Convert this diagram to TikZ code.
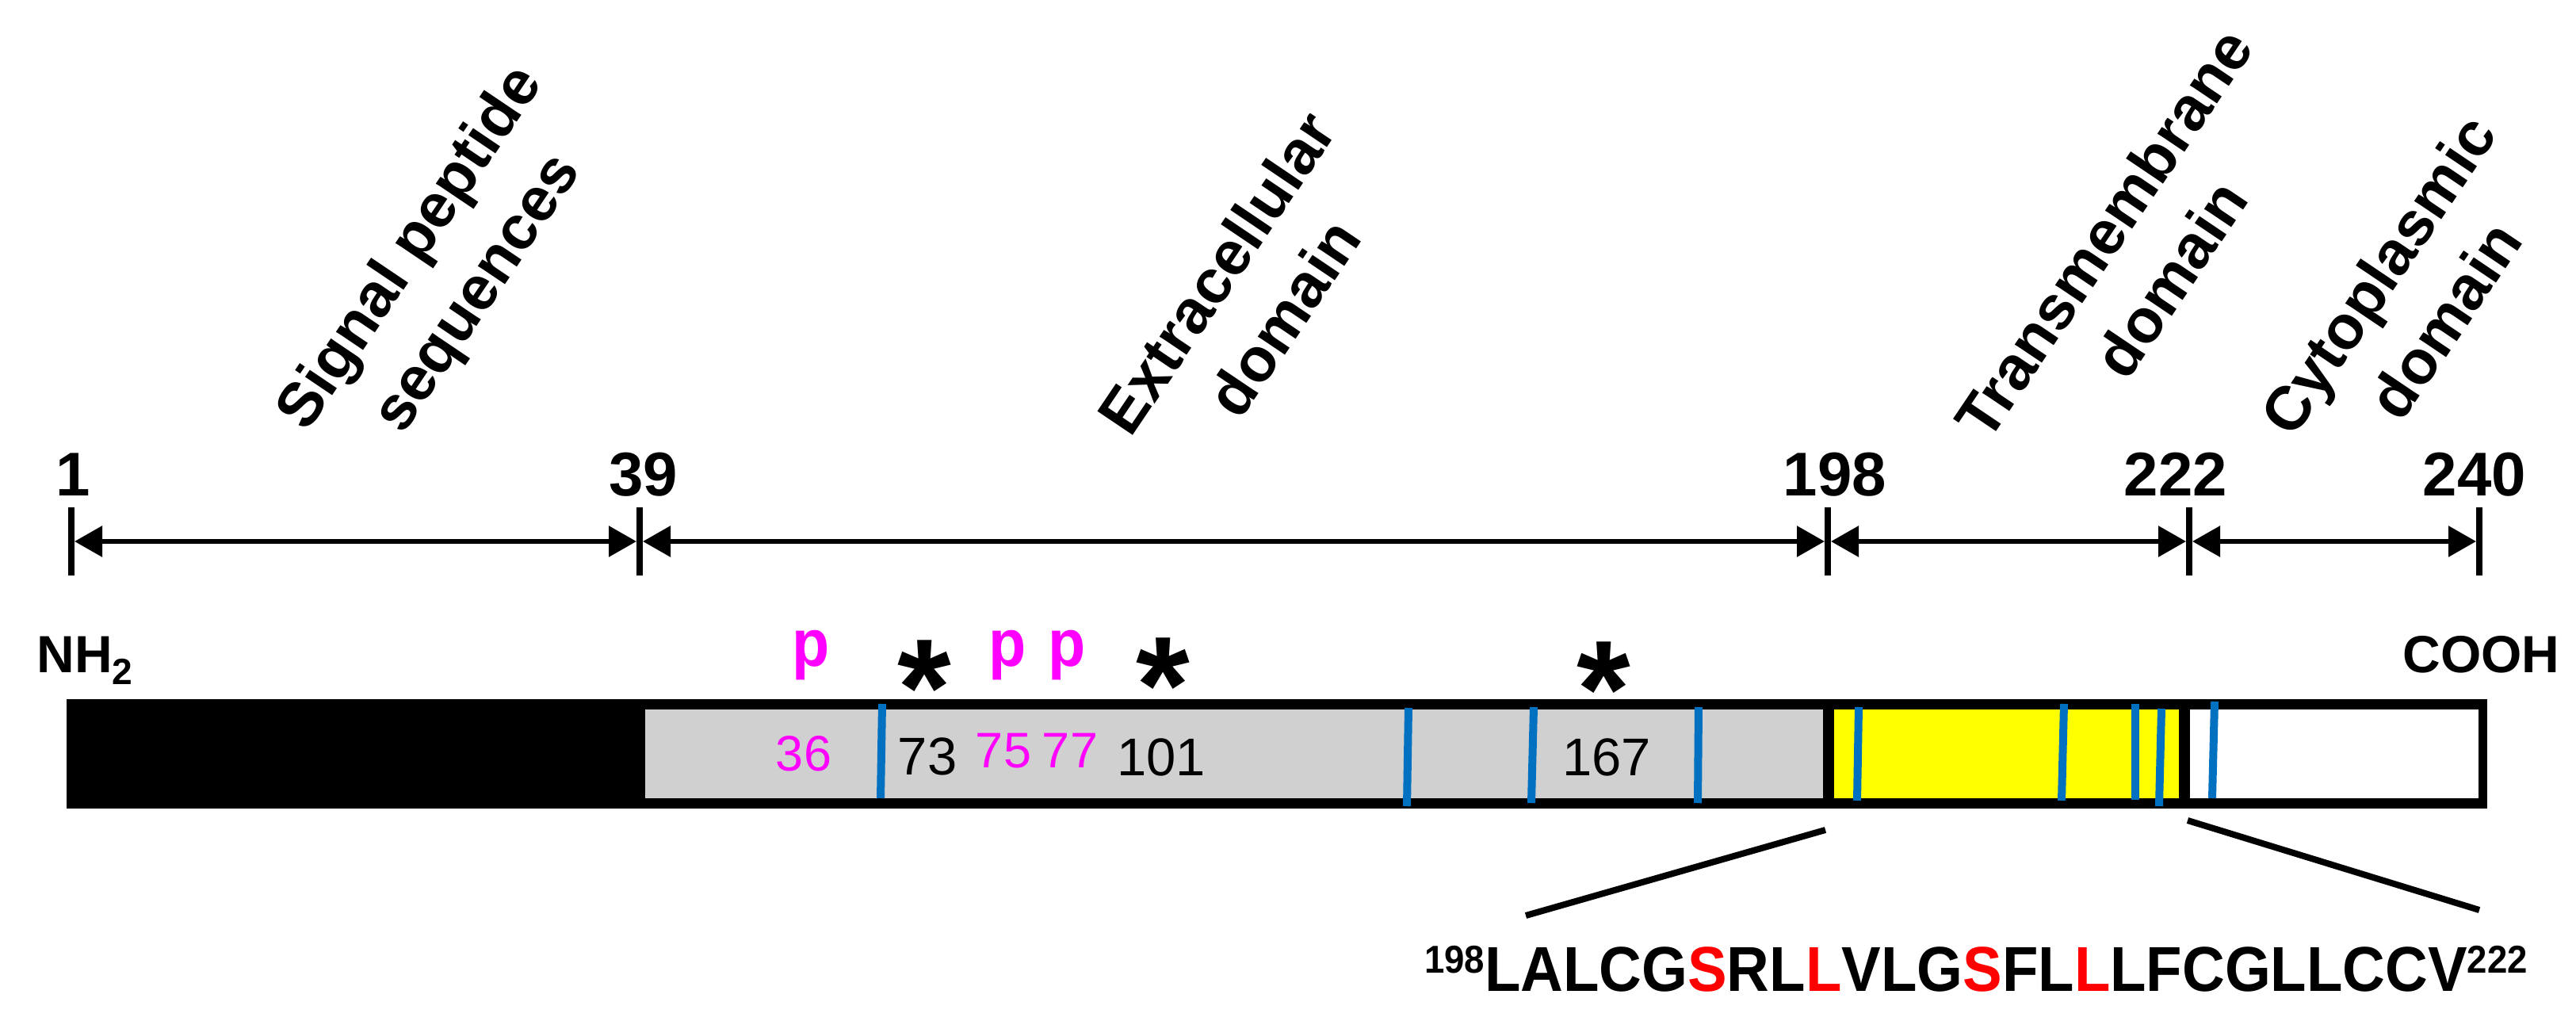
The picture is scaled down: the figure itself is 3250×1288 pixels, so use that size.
\documentclass[tikz,border=0pt]{standalone}
\usepackage{fontspec}
\setmainfont{Liberation Sans}
\usetikzlibrary{arrows.meta}
\definecolor{bargrey}{RGB}{208,208,208}
\definecolor{siteblue}{RGB}{0,112,192}
\definecolor{phosmag}{RGB}{255,0,255}
\definecolor{seqred}{RGB}{255,0,0}
\definecolor{tmyellow}{RGB}{255,255,0}
\begin{document}
\begin{tikzpicture}[x=0.5pt,y=-0.5pt,
  tickmark/.style={line width=4pt},
  spanarrow/.style={line width=3pt,{Triangle[length=17.5pt,width=19pt]}-{Triangle[length=17.5pt,width=19pt]},shorten <=2pt,shorten >=2pt},
  posnum/.style={font=\fontsize{39}{45}\selectfont\bfseries,inner sep=0pt,anchor=base},
  domlabel/.style={font=\fontsize{39}{51}\selectfont\bfseries,align=center,rotate=56,inner sep=0pt},
  endlabel/.style={font=\fontsize{33}{38}\selectfont\bfseries,inner sep=0pt,anchor=base west},
  barnum/.style={font=\fontsize{33.5}{38}\selectfont,inner sep=0pt,anchor=base},
  magnum/.style={font=\fontsize{31.5}{36}\selectfont,text=phosmag,inner sep=0pt,anchor=base},
  phos/.style={font=\fontsize{42}{48}\selectfont\bfseries,text=phosmag,inner sep=0pt,anchor=base,xscale=0.92},
  glyco/.style={font=\fontsize{87}{90}\selectfont\bfseries,inner sep=0pt,anchor=base},
  siteline/.style={draw=siteblue,line width=5pt},
  zoomline/.style={line width=4pt}]
\fill[white] (0,0) rectangle (3250,1288);
\useasboundingbox (0,0) rectangle (3250,1288);

% ---- position scale ----
\foreach \nm/\x in {t1/90,t39/807,t198/2306,t222/2762,t240/3128}{
  \coordinate (\nm top) at (\x,640);
  \coordinate (\nm bot) at (\x,726);
  \coordinate (\nm) at (\x,683);
  \draw[tickmark] (\nm top) -- (\nm bot);
}
\draw[spanarrow] (t1) -- (t39);
\draw[spanarrow] (t39) -- (t198);
\draw[spanarrow] (t198) -- (t222);
\draw[spanarrow] (t222) -- (t240);

\node[posnum] (n1) at (92,625) {1};
\node[posnum] (n39) at (812,625) {39};
\node[posnum] (n198) at (2315,625) {198};
\node[posnum] (n222) at (2745,625) {222};
\node[posnum] (n240) at (3122,625) {240};

% ---- domain labels ----
\node[domlabel] (lsig) at (562,343) {Signal peptide\\sequences};
\node[domlabel] (lext) at (1577,372) {Extracellular\\domain};
\node[domlabel] (ltm) at (2696,323) {Transmembrane\\domain};
\node[domlabel] (lcyt) at (3042,375) {Cytoplasmic\\domain};

% ---- termini ----
\node[endlabel] (nh2) at (46,848) {NH\textsubscript{2}};
\node[endlabel] (cooh) at (3031,848) {COOH};

% ---- protein bar ----
\fill[black] (84,882) rectangle (3138,1020);
\fill[bargrey] (814,895) rectangle (2300,1007);
\fill[tmyellow] (2314,895) rectangle (2749,1007);
\fill[white] (2763,895) rectangle (3127,1007);

\foreach \xa/\ya/\xb/\yb in {1113/888/1111/1007, 1777/893/1775/1017, 1935/892/1932/1013,
  2143/892/2142/1013, 2345/892/2343/1010, 2604/888/2601/1010, 2694/888/2694/1009,
  2727/894/2724/1017, 2794/885/2791/1007}{
  \draw[siteline] (\xa,\ya) -- (\xb,\yb);
}

% ---- numbers inside bar ----
\node[magnum] (b36) at (1014,972) {36};
\node[barnum] (b73) at (1170,977) {73};
\node[magnum] (b75) at (1266,968) {75};
\node[magnum] (b77) at (1350,968) {77};
\node[barnum] (b101) at (1465,978) {101};
\node[barnum] (b167) at (2027,978) {167};

% ---- phosphorylation / glycosylation marks ----
\node[phos] (p36) at (1023,840) {p};
\node[phos] (p75) at (1271,840) {p};
\node[phos] (p77) at (1346,840) {p};
\node[glyco] (g73) at (1166,927) {*};
\node[glyco] (g101) at (1467,924) {*};
\node[glyco] (g167) at (2023,929) {*};

% ---- zoom lines and sequence ----
\coordinate (zl1) at (2303,1047);
\coordinate (zl2) at (1925,1155);
\coordinate (zr1) at (2760,1035);
\coordinate (zr2) at (3128,1148);
\draw[zoomline] (zl1) -- (zl2);
\draw[zoomline] (zr1) -- (zr2);

\node[inner sep=0pt,anchor=base,xscale=0.93,font=\fontsize{40}{44}\selectfont\bfseries] (seq) at (2493,1250)
 {{\fontsize{24.5}{26}\selectfont\raisebox{11.5pt}{198}}LALCG\textcolor{seqred}{S}RL\textcolor{seqred}{L}VLG\textcolor{seqred}{S}FL\textcolor{seqred}{L}LFCGLLCCV{\fontsize{24.5}{26}\selectfont\raisebox{11.5pt}{222}}};
\end{tikzpicture}
\end{document}
